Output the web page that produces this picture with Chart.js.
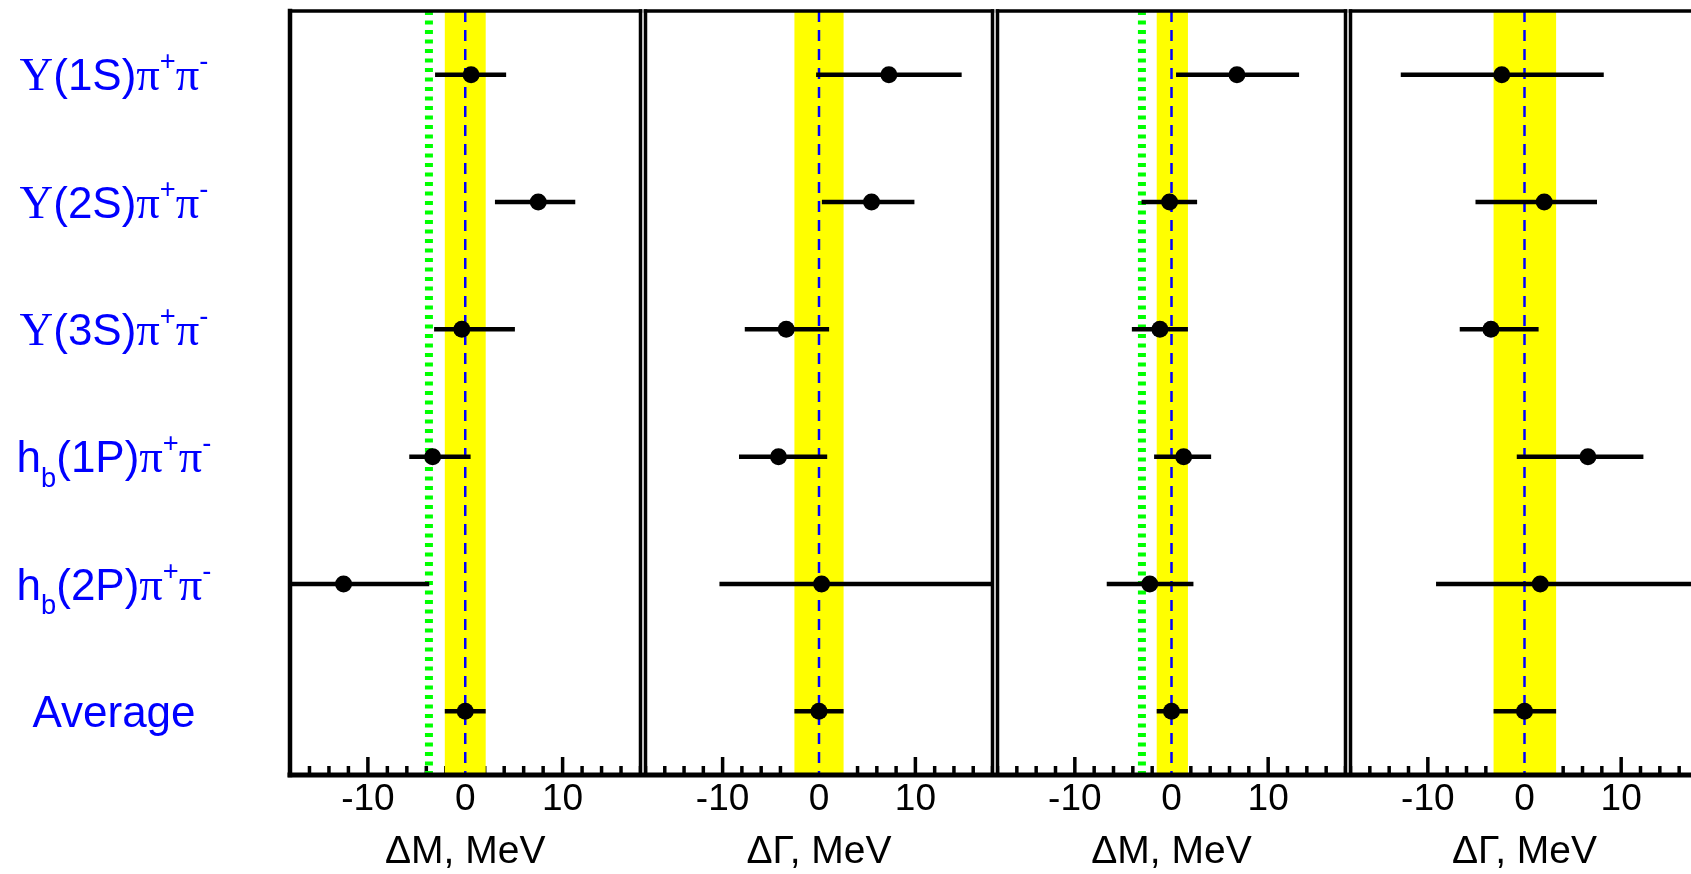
<!DOCTYPE html>
<html>
<head>
<meta charset="utf-8">
<script src="https://cdn.jsdelivr.net/npm/chart.js@4.4.1/dist/chart.umd.min.js"></script>
<style>
html, body { margin: 0; padding: 0; background: #fff; overflow: hidden; }
#wrap { position: relative; width: 1691px; height: 874px; overflow: hidden; background: #fff; }
#wrap canvas { position: absolute; top: 0; }
</style>
</head>
<body>
<div id="wrap">
  <canvas id="p0" data-idx="0"></canvas>
  <canvas id="p1" data-idx="1"></canvas>
  <canvas id="p2" data-idx="2"></canvas>
  <canvas id="p3" data-idx="3"></canvas>
</div>
<script>
// rows, top to bottom (ROOT-style ^{} / _{} markup)
const rowLabels = [
  'Υ(1S)π^{+}π^{-}',
  'Υ(2S)π^{+}π^{-}',
  'Υ(3S)π^{+}π^{-}',
  'h_{b}(1P)π^{+}π^{-}',
  'h_{b}(2P)π^{+}π^{-}',
  'Average'
];
const axisTitles = ['ΔM, MeV', 'ΔΓ, MeV', 'ΔM, MeV', 'ΔΓ, MeV'];
const xMin = -18, xMax = 18, xStep = 10;

// panel 1: ΔM
const dm1Val   = [0.6, 7.5, -0.35, -3.35, -12.5, 0];
const dm1ErrLo = [3.7, 4.45, 2.85, 2.4, 11.5, 2.1];
const dm1ErrHi = [3.6, 3.8, 5.45, 3.9, 8.8, 2.1];
// panel 2: ΔΓ
const dg1Val   = [7.25, 5.45, -3.4, -4.2, 0.27, 0];
const dg1ErrLo = [7.55, 5.15, 4.3, 4.1, 10.6, 2.55];
const dg1ErrHi = [7.55, 4.45, 4.45, 5.05, 21, 2.55];
// panel 3: ΔM
const dm2Val   = [6.77, -0.2, -1.2, 1.26, -2.25, 0];
const dm2ErrLo = [6.3, 2.9, 2.9, 3.06, 4.45, 1.53];
const dm2ErrHi = [6.43, 2.85, 2.9, 2.84, 4.52, 1.7];
// panel 4: ΔΓ
const dg2Val   = [-2.35, 2.04, -3.47, 6.56, 1.63, 0];
const dg2ErrLo = [10.45, 7.11, 3.23, 7.36, 10.78, 3.2];
const dg2ErrHi = [10.55, 5.46, 4.93, 5.74, 19, 3.27];

// average band and threshold line per panel
const bandLo = [-2.1, -2.55, -1.53, -3.2];
const bandHi = [2.1, 2.55, 1.7, 3.27];
const threshold = [-3.73, null, -3.06, null];

const panels = [
  { val: dm1Val, lo: dm1ErrLo, hi: dm1ErrHi },
  { val: dg1Val, lo: dg1ErrLo, hi: dg1ErrHi },
  { val: dm2Val, lo: dm2ErrLo, hi: dm2ErrHi },
  { val: dg2Val, lo: dg2ErrLo, hi: dg2ErrHi }
];

// layout (pixels)
const panelEdges = [290, 643, 995, 1348, 1701];
const H = 874, TOP = 11, AXIS_H = 99;
const SANS = '"Liberation Sans", Arial, sans-serif';
const SERIF = '"Liberation Serif", "Times New Roman", serif';

function parseRich(str) {
  const segs = [];
  const re = /([\^_])\{([^}]*)\}|([^\^_]+)/g;
  let m;
  while ((m = re.exec(str))) {
    const mode = m[1] ? (m[1] === '^' ? 'sup' : 'sub') : 'normal';
    const txt = m[1] ? m[2] : m[3];
    // split into greek / latin runs
    const runs = txt.match(/[\u0370-\u03ff]+|[^\u0370-\u03ff]+/g) || [];
    runs.forEach(r => segs.push({ text: r, mode, greek: /[\u0370-\u03ff]/.test(r) }));
  }
  return segs;
}

function drawRich(ctx, str, cx, baseY, size, color) {
  const segs = parseRich(str);
  const fontOf = s => {
    let sz = s.mode === 'normal' ? size : size * 0.62;
    if (s.greek) sz *= 1.06;
    return sz.toFixed(1) + 'px ' + (s.greek ? SERIF : SANS);
  };
  let total = 0;
  segs.forEach(s => { ctx.font = fontOf(s); s.w = ctx.measureText(s.text).width; total += s.w; });
  let x = cx - total / 2;
  ctx.fillStyle = color;
  ctx.textBaseline = 'alphabetic';
  ctx.textAlign = 'left';
  segs.forEach(s => {
    ctx.font = fontOf(s);
    let dy = 0;
    if (s.mode === 'sup') dy = -0.45 * size;
    if (s.mode === 'sub') dy = 0.33 * size;
    ctx.fillText(s.text, x, baseY + dy);
    x += s.w;
  });
}

const panelPlugin = {
  id: 'panelDecor',
  beforeDatasetsDraw(chart) {
    const idx = +chart.canvas.dataset.idx;
    const p = panels[idx];
    const { ctx, chartArea: a, scales: { x, y } } = chart;
    ctx.save();
    ctx.beginPath();
    ctx.rect(a.left, a.top, a.right - a.left, a.bottom - a.top);
    ctx.clip();

    // inward ticks on the bottom axis
    ctx.strokeStyle = '#000';
    ctx.lineWidth = 3.5;
    for (let v = Math.ceil(x.min / 2) * 2; v <= x.max; v += 2) {
      const px = x.getPixelForValue(v);
      const len = v % xStep === 0 ? 18 : 9;
      ctx.beginPath();
      ctx.moveTo(px, a.bottom);
      ctx.lineTo(px, a.bottom - len);
      ctx.stroke();
    }

    // average band
    const b0 = x.getPixelForValue(bandLo[idx]);
    const b1 = x.getPixelForValue(bandHi[idx]);
    ctx.fillStyle = '#ffff00';
    ctx.fillRect(b0, a.top, b1 - b0, a.bottom - a.top);

    // threshold (green dotted)
    if (threshold[idx] != null) {
      const tx = x.getPixelForValue(threshold[idx]);
      ctx.strokeStyle = '#00ff00';
      ctx.lineWidth = 8;
      ctx.setLineDash([4, 5.5]);
      ctx.beginPath();
      ctx.moveTo(tx, a.top);
      ctx.lineTo(tx, a.bottom);
      ctx.stroke();
    }

    // zero line (blue dashed)
    const zx = x.getPixelForValue(0);
    ctx.strokeStyle = '#0000ff';
    ctx.lineWidth = 2.5;
    ctx.setLineDash([11, 8]);
    ctx.beginPath();
    ctx.moveTo(zx, a.top);
    ctx.lineTo(zx, a.bottom);
    ctx.stroke();
    ctx.setLineDash([]);

    // horizontal error bars
    ctx.strokeStyle = '#000';
    ctx.lineWidth = 4.5;
    p.val.forEach((v, k) => {
      const py = y.getPixelForValue(k);
      ctx.beginPath();
      ctx.moveTo(x.getPixelForValue(v - p.lo[k]), py);
      ctx.lineTo(x.getPixelForValue(v + p.hi[k]), py);
      ctx.stroke();
    });
    ctx.restore();
  },
  afterDraw(chart) {
    const idx = +chart.canvas.dataset.idx;
    const { ctx, chartArea: a, scales: { y } } = chart;
    ctx.save();
    ctx.strokeStyle = '#000';
    ctx.lineCap = 'square';
    ctx.lineWidth = 3.5;
    ctx.beginPath();
    ctx.moveTo(a.left, a.top); ctx.lineTo(a.right, a.top);
    ctx.stroke();
    ctx.lineWidth = idx === 0 ? 4.5 : 3.5;
    ctx.beginPath();
    ctx.moveTo(a.left, a.top); ctx.lineTo(a.left, a.bottom);
    ctx.stroke();
    ctx.lineWidth = 3.5;
    ctx.beginPath();
    ctx.moveTo(a.right, a.top); ctx.lineTo(a.right, a.bottom);
    ctx.stroke();
    ctx.lineWidth = 5;
    ctx.beginPath();
    ctx.moveTo(a.left, a.bottom); ctx.lineTo(a.right, a.bottom);
    ctx.stroke();

    if (idx === 0) {
      rowLabels.forEach((lab, k) => {
        const py = y.getPixelForValue(k);
        drawRich(ctx, lab, 114, py + 15.5, 44, '#0000ff');
      });
    }
    ctx.restore();
  }
};

panels.forEach((p, i) => {
  const cv = document.getElementById('p' + i);
  const left = i === 0 ? 0 : panelEdges[i] - 6;
  const padL = panelEdges[i] - left;
  const w = panelEdges[i + 1] - left + 6;
  cv.width = w;
  cv.height = H;
  cv.style.left = left + 'px';
  cv.style.width = w + 'px';
  cv.style.height = H + 'px';

  new Chart(cv.getContext('2d'), {
    type: 'scatter',
    data: {
      datasets: [{
        data: p.val.map((v, k) => ({ x: v, y: k })),
        pointRadius: 8.5,
        pointHoverRadius: 8.5,
        pointBackgroundColor: '#000',
        pointBorderWidth: 0,
        showLine: false
      }]
    },
    options: {
      responsive: false,
      animation: false,
      events: [],
      layout: { padding: { left: padL, right: 6, top: TOP, bottom: 0 } },
      plugins: { legend: { display: false }, tooltip: { enabled: false } },
      scales: {
        x: {
          type: 'linear',
          position: 'bottom',
          min: xMin,
          max: xMax,
          grid: { display: false, drawTicks: false },
          border: { display: false },
          ticks: {
            stepSize: xStep,
            includeBounds: false,
            autoSkip: false,
            maxRotation: 0,
            padding: 3,
            color: '#000',
            font: { family: SANS, size: 37 }
          },
          title: {
            display: true,
            text: axisTitles[i],
            color: '#000',
            font: { family: SANS, size: 39, lineHeight: 1.1 },
            padding: { top: 0, bottom: 0 }
          },
          afterFit(s) { s.height = AXIS_H; }
        },
        y: {
          type: 'linear',
          min: -0.5,
          max: 5.5,
          reverse: true,
          display: false
        }
      }
    },
    plugins: [panelPlugin]
  });
});
</script>
</body>
</html>
